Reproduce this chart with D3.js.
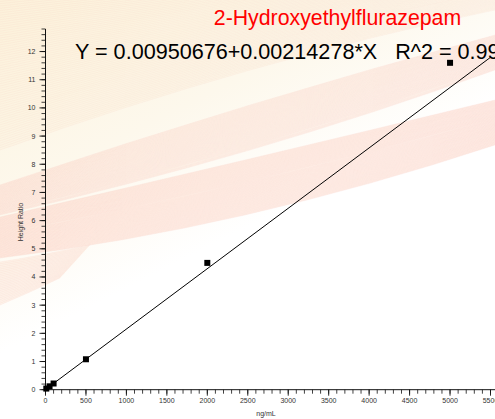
<!DOCTYPE html>
<html>
<head>
<meta charset="utf-8">
<script src="https://cdn.jsdelivr.net/npm/d3@7"></script>
<style>
  html, body { margin: 0; padding: 0; background: #fff; }
  svg { display: block; font-family: "Liberation Sans", Arial, Helvetica, sans-serif; }
</style>
</head>
<body>
<svg id="chart" width="495" height="419"></svg>
<script>
// Calibration standards (ng/mL) and measured height ratios
const concentrations = [10, 50, 100, 500, 2000, 5000];
const heightRatios   = [0.04, 0.12, 0.22, 1.08, 4.50, 11.60];

// Linear fit coefficients
const intercept = 0.00950676;
const slope = 0.00214278;

const xTickValues = [0, 500, 1000, 1500, 2000, 2500, 3000, 3500, 4000, 4500, 5000, 5500];
const yTickValues = [0, 1, 2, 3, 4, 5, 6, 7, 8, 9, 10, 11, 12];

const titleText = "2-Hydroxyethylflurazepam";
const equationText = "Y = 0.00950676+0.00214278*X   R^2 = 0.99";
const xAxisTitle = "ng/mL";
const yAxisTitle = "Height Ratio";

const W = 495, H = 419;
const svg = d3.select("#chart");

// ---------- decorative background ----------
const defs = svg.append("defs");
const bg = defs.append("linearGradient").attr("id", "bgGrad")
  .attr("x1", "0").attr("y1", "0").attr("x2", "0.6").attr("y2", "1");
bg.append("stop").attr("offset", "0").attr("stop-color", "#fcf3dc");
bg.append("stop").attr("offset", "0.35").attr("stop-color", "#fdf8ec");
bg.append("stop").attr("offset", "0.62").attr("stop-color", "#ffffff");
bg.append("stop").attr("offset", "1").attr("stop-color", "#ffffff");
svg.append("rect").attr("width", W).attr("height", H).attr("fill", "url(#bgGrad)");

const deco = svg.append("g").attr("class", "deco");

// quadratic passing through three points
function quadThrough(p0, p1, p2) {
  const c = [2 * p1[0] - (p0[0] + p2[0]) / 2, 2 * p1[1] - (p0[1] + p2[1]) / 2];
  return `M${p0[0]},${p0[1]}Q${c[0]},${c[1]} ${p2[0]},${p2[1]}`;
}
const lerp = (a, b, t) => [a[0] + (b[0] - a[0]) * t, a[1] + (b[1] - a[1]) * t];

function ribbon(top, bottom, n, stroke, opacity, fill, fillOpacity) {
  // soft fill between the two edges
  const edge = quadThrough(top[0], top[1], top[2]);
  const c2 = [2 * bottom[1][0] - (bottom[0][0] + bottom[2][0]) / 2,
              2 * bottom[1][1] - (bottom[0][1] + bottom[2][1]) / 2];
  deco.append("path")
    .attr("d", `${edge}L${bottom[2][0]},${bottom[2][1]}Q${c2[0]},${c2[1]} ${bottom[0][0]},${bottom[0][1]}Z`)
    .attr("fill", fill).attr("fill-opacity", fillOpacity);
  d3.range(n + 1).forEach(k => {
    const t = k / n;
    deco.append("path")
      .attr("d", quadThrough(lerp(top[0], bottom[0], t), lerp(top[1], bottom[1], t), lerp(top[2], bottom[2], t)))
      .attr("fill", "none")
      .attr("stroke", stroke)
      .attr("stroke-width", 0.5)
      .attr("stroke-opacity", opacity);
  });
}

// upper fan of fine lines
ribbon([[0, -10], [250, -35], [495, -70]], [[0, 150], [250, 70], [495, 10]], 70,
       "#f0a0a0", 0.16, "#fdefd6", 0.3);
// upper diagonal band
ribbon([[0, 185], [250, 105], [495, 35]], [[0, 215], [250, 150], [495, 70]], 50,
       "#f2a8a0", 0.2, "#fdeadb", 0.45);
// middle diagonal band
ribbon([[0, 217], [245, 160], [495, 100]], [[0, 258], [245, 215], [495, 145]], 60,
       "#f2a39a", 0.22, "#fde6d8", 0.5);
// lower-left patch
ribbon([[0, 262], [40, 255], [90, 245]], [[0, 305], [30, 292], [60, 278]], 24,
       "#f2a39a", 0.2, "#fde6d8", 0.45);

// ---------- chart ----------
const x = d3.scaleLinear().domain([0, 5500]).range([45.5, 490.5]);
const y = d3.scaleLinear().domain([0, 12.8]).range([389.7, 29]);

const axisColor = "#111";
const labelColor = "#333";

// y axis
const yAxisG = svg.append("g").attr("transform", `translate(${x(0)},0)`);
yAxisG.append("line").attr("y1", y(0)).attr("y2", y(12.8)).attr("stroke", axisColor).attr("stroke-width", 1);
yAxisG.selectAll("line.minor").data(d3.range(0, 64 + 1).map(i => i * 0.2)).join("line")
  .attr("class", "minor")
  .attr("x1", -4).attr("x2", 0)
  .attr("y1", d => y(d)).attr("y2", d => y(d))
  .attr("stroke", axisColor).attr("stroke-width", 0.8);
yAxisG.selectAll("line.major").data(yTickValues).join("line")
  .attr("class", "major")
  .attr("x1", -6).attr("x2", 0)
  .attr("y1", d => y(d)).attr("y2", d => y(d))
  .attr("stroke", axisColor).attr("stroke-width", 0.9);
yAxisG.selectAll("text").data(yTickValues).join("text")
  .attr("x", -10).attr("y", d => y(d))
  .attr("dy", "0.35em")
  .attr("text-anchor", "end")
  .attr("font-size", 7)
  .attr("fill", labelColor)
  .text(d => d);

// x axis
const xAxisG = svg.append("g").attr("transform", `translate(0,${y(0)})`);
xAxisG.append("line").attr("x1", x(0)).attr("x2", W).attr("stroke", axisColor).attr("stroke-width", 1);
xAxisG.selectAll("line.minor").data(d3.range(0, 56).map(i => i * 100)).join("line")
  .attr("class", "minor")
  .attr("x1", d => x(d)).attr("x2", d => x(d))
  .attr("y1", 0).attr("y2", 4)
  .attr("stroke", axisColor).attr("stroke-width", 0.8);
xAxisG.selectAll("line.major").data(xTickValues).join("line")
  .attr("class", "major")
  .attr("x1", d => x(d)).attr("x2", d => x(d))
  .attr("y1", 0).attr("y2", 6)
  .attr("stroke", axisColor).attr("stroke-width", 0.9);
xAxisG.selectAll("text").data(xTickValues).join("text")
  .attr("x", d => x(d)).attr("y", 13)
  .attr("text-anchor", "middle")
  .attr("font-size", 7)
  .attr("fill", labelColor)
  .text(d => d);

// axis titles
svg.append("text")
  .attr("x", 266).attr("y", 416)
  .attr("text-anchor", "middle")
  .attr("font-size", 7)
  .attr("fill", labelColor)
  .text(xAxisTitle);
svg.append("text")
  .attr("transform", `translate(23,222) rotate(-90)`)
  .attr("text-anchor", "middle")
  .attr("font-size", 7)
  .attr("fill", labelColor)
  .text(yAxisTitle);

// regression line
svg.append("line")
  .attr("x1", x(0)).attr("y1", y(intercept))
  .attr("x2", x(5500)).attr("y2", y(intercept + slope * 5500))
  .attr("stroke", "#000").attr("stroke-width", 1);

// calibration points
const pts = concentrations.map((c, i) => ({ c, r: heightRatios[i] }));
svg.selectAll("rect.pt").data(pts).join("rect")
  .attr("class", "pt")
  .attr("x", d => x(d.c) - 3).attr("y", d => y(d.r) - 3)
  .attr("width", 6).attr("height", 6)
  .attr("fill", "#000");

// title and equation
svg.append("text")
  .attr("x", 337.5).attr("y", 25)
  .attr("text-anchor", "middle")
  .attr("font-size", 21.3)
  .attr("fill", "#ff0000")
  .text(titleText);
svg.append("text")
  .attr("x", 75).attr("y", 59)
  .attr("font-size", 21.6)
  .attr("fill", "#000")
  .style("white-space", "pre")
  .text(equationText);
</script>
</body>
</html>
